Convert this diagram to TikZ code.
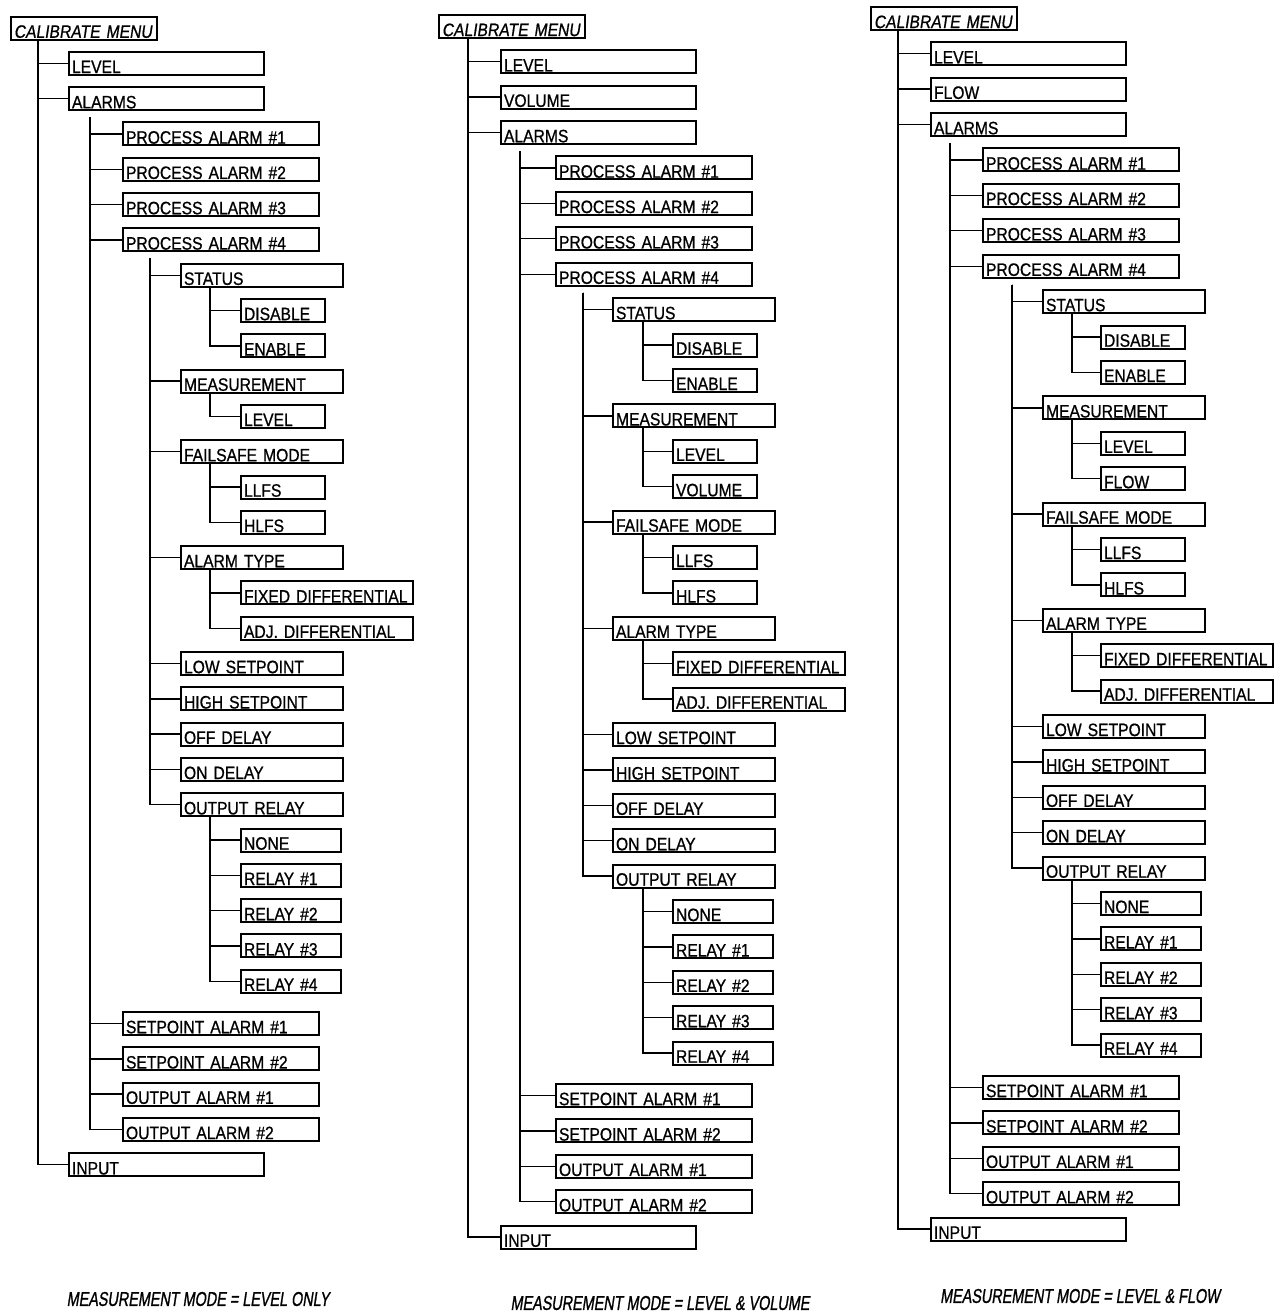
\documentclass[tikz,border=0pt]{standalone}
\usepackage{fontspec}
\setmainfont{Liberation Sans}
\newfontfamily\boxfam[FakeStretch=0.87,FakeBold=0.8]{Liberation Sans}
\newfontfamily\slfont[FakeSlant=0.15,FakeStretch=0.87,FakeBold=0.8]{Liberation Sans}
\newfontfamily\capfont[FakeSlant=0.15,FakeStretch=0.72,FakeBold=1]{Liberation Sans}
\newcommand{\boxfont}{\fontsize{9}{10}\selectfont}

\tikzset{
  menu/.style={draw, line width=1pt, anchor=west, inner xsep=1.5pt, inner ysep=0.9pt,
    text height=9.7pt, text depth=0pt, text width=#1, align=left, font=\boxfam\boxfont},
  title/.style={menu=70pt, font=\slfont\boxfont},
  link/.style={line width=0.7pt},
  caption/.style={font=\capfont\fontsize{10}{11}\selectfont},
}

\begin{document}
\begin{tikzpicture}
\useasboundingbox (0,0) rectangle (638pt,-658pt);

% level only
\begin{scope}[shift={(5pt,-67pt)},x=0.5pt,y=-17.65pt]
\node[title] (Acal) at (0,-3) {CALIBRATE MENU};
\node[menu=94.5pt] (Alev) at (58,-2) {LEVEL};
\node[menu=94.5pt] (Aalm) at (58,-1) {ALARMS};
\node[menu=95pt] (Apa1) at (112,0) {PROCESS ALARM \#1};
\node[menu=95pt] (Apa2) at (112,1) {PROCESS ALARM \#2};
\node[menu=95pt] (Apa3) at (112,2) {PROCESS ALARM \#3};
\node[menu=95pt] (Apa4) at (112,3) {PROCESS ALARM \#4};
\node[menu=78pt] (Asta) at (170,4) {STATUS};
\node[menu=39pt] (Adis) at (230,5) {DISABLE};
\node[menu=39pt] (Aena) at (230,6) {ENABLE};
\node[menu=78pt] (Amea) at (170,7) {MEASUREMENT};
\node[menu=39pt] (Amlv) at (230,8) {LEVEL};
\node[menu=78pt] (Afsm) at (170,9) {FAILSAFE MODE};
\node[menu=39pt] (Allf) at (230,10) {LLFS};
\node[menu=39pt] (Ahlf) at (230,11) {HLFS};
\node[menu=78pt] (Aaty) at (170,12) {ALARM TYPE};
\node[menu=83pt] (Afix) at (230,13) {FIXED DIFFERENTIAL};
\node[menu=83pt] (Aadj) at (230,14) {ADJ. DIFFERENTIAL};
\node[menu=78pt] (Alow) at (170,15) {LOW SETPOINT};
\node[menu=78pt] (Ahig) at (170,16) {HIGH SETPOINT};
\node[menu=78pt] (Aoff) at (170,17) {OFF DELAY};
\node[menu=78pt] (Aond) at (170,18) {ON DELAY};
\node[menu=78pt] (Aout) at (170,19) {OUTPUT RELAY};
\node[menu=47pt] (Anon) at (230,20) {NONE};
\node[menu=47pt] (Ar1) at (230,21) {RELAY \#1};
\node[menu=47pt] (Ar2) at (230,22) {RELAY \#2};
\node[menu=47pt] (Ar3) at (230,23) {RELAY \#3};
\node[menu=47pt] (Ar4) at (230,24) {RELAY \#4};
\node[menu=95pt] (Asp1) at (112,25.2) {SETPOINT ALARM \#1};
\node[menu=95pt] (Asp2) at (112,26.2) {SETPOINT ALARM \#2};
\node[menu=95pt] (Aoa1) at (112,27.2) {OUTPUT ALARM \#1};
\node[menu=95pt] (Aoa2) at (112,28.2) {OUTPUT ALARM \#2};
\node[menu=94.5pt] (Ainp) at (58,29.2) {INPUT};

\foreach \c in {Alev,Aalm,Ainp}
  \draw[link] ([xshift=14pt]Acal.south west) |- (\c.west);
\foreach \c in {Apa1,Apa2,Apa3,Apa4,Asp1,Asp2,Aoa1,Aoa2}
  \draw[link] ([xshift=11pt,yshift=-3pt]Aalm.south west) |- (\c.west);
\foreach \c in {Asta,Amea,Afsm,Aaty,Alow,Ahig,Aoff,Aond,Aout}
  \draw[link] ([xshift=14pt,yshift=-3pt]Apa4.south west) |- (\c.west);
\foreach \c in {Adis,Aena}
  \draw[link] ([xshift=15pt]Asta.south west) |- (\c.west);
\draw[link] ([xshift=15pt]Amea.south west) |- (Amlv.west);
\foreach \c in {Allf,Ahlf}
  \draw[link] ([xshift=15pt]Afsm.south west) |- (\c.west);
\foreach \c in {Afix,Aadj}
  \draw[link] ([xshift=15pt]Aaty.south west) |- (\c.west);
\foreach \c in {Anon,Ar1,Ar2,Ar3,Ar4}
  \draw[link] ([xshift=15pt]Aout.south west) |- (\c.west);
\end{scope}

% level and volume
\begin{scope}[shift={(219pt,-84pt)},x=0.5pt,y=-17.7pt]
\node[title] (Bcal) at (0,-4) {CALIBRATE MENU};
\node[menu=94.5pt] (Blev) at (62,-3) {LEVEL};
\node[menu=94.5pt] (Bvol) at (62,-2) {VOLUME};
\node[menu=94.5pt] (Balm) at (62,-1) {ALARMS};
\node[menu=95pt] (Bpa1) at (117,0) {PROCESS ALARM \#1};
\node[menu=95pt] (Bpa2) at (117,1) {PROCESS ALARM \#2};
\node[menu=95pt] (Bpa3) at (117,2) {PROCESS ALARM \#3};
\node[menu=95pt] (Bpa4) at (117,3) {PROCESS ALARM \#4};
\node[menu=78pt] (Bsta) at (174,4) {STATUS};
\node[menu=39pt] (Bdis) at (234,5) {DISABLE};
\node[menu=39pt] (Bena) at (234,6) {ENABLE};
\node[menu=78pt] (Bmea) at (174,7) {MEASUREMENT};
\node[menu=39pt] (Bmlv) at (234,8) {LEVEL};
\node[menu=39pt] (Bmvo) at (234,9) {VOLUME};
\node[menu=78pt] (Bfsm) at (174,10) {FAILSAFE MODE};
\node[menu=39pt] (Bllf) at (234,11) {LLFS};
\node[menu=39pt] (Bhlf) at (234,12) {HLFS};
\node[menu=78pt] (Baty) at (174,13) {ALARM TYPE};
\node[menu=83pt] (Bfix) at (234,14) {FIXED DIFFERENTIAL};
\node[menu=83pt] (Badj) at (234,15) {ADJ. DIFFERENTIAL};
\node[menu=78pt] (Blow) at (174,16) {LOW SETPOINT};
\node[menu=78pt] (Bhig) at (174,17) {HIGH SETPOINT};
\node[menu=78pt] (Boff) at (174,18) {OFF DELAY};
\node[menu=78pt] (Bond) at (174,19) {ON DELAY};
\node[menu=78pt] (Bout) at (174,20) {OUTPUT RELAY};
\node[menu=47pt] (Bnon) at (234,21) {NONE};
\node[menu=47pt] (Br1) at (234,22) {RELAY \#1};
\node[menu=47pt] (Br2) at (234,23) {RELAY \#2};
\node[menu=47pt] (Br3) at (234,24) {RELAY \#3};
\node[menu=47pt] (Br4) at (234,25) {RELAY \#4};
\node[menu=95pt] (Bsp1) at (117,26.2) {SETPOINT ALARM \#1};
\node[menu=95pt] (Bsp2) at (117,27.2) {SETPOINT ALARM \#2};
\node[menu=95pt] (Boa1) at (117,28.2) {OUTPUT ALARM \#1};
\node[menu=95pt] (Boa2) at (117,29.2) {OUTPUT ALARM \#2};
\node[menu=94.5pt] (Binp) at (62,30.2) {INPUT};

\foreach \c in {Blev,Bvol,Balm,Binp}
  \draw[link] ([xshift=15pt]Bcal.south west) |- (\c.west);
\foreach \c in {Bpa1,Bpa2,Bpa3,Bpa4,Bsp1,Bsp2,Boa1,Boa2}
  \draw[link] ([xshift=10pt,yshift=-3pt]Balm.south west) |- (\c.west);
\foreach \c in {Bsta,Bmea,Bfsm,Baty,Blow,Bhig,Boff,Bond,Bout}
  \draw[link] ([xshift=14pt,yshift=-3pt]Bpa4.south west) |- (\c.west);
\foreach \c in {Bdis,Bena}
  \draw[link] ([xshift=15.5pt]Bsta.south west) |- (\c.west);
\foreach \c in {Bmlv,Bmvo}
  \draw[link] ([xshift=15.5pt]Bmea.south west) |- (\c.west);
\foreach \c in {Bllf,Bhlf}
  \draw[link] ([xshift=15.5pt]Bfsm.south west) |- (\c.west);
\foreach \c in {Bfix,Badj}
  \draw[link] ([xshift=15.5pt]Baty.south west) |- (\c.west);
\foreach \c in {Bnon,Br1,Br2,Br3,Br4}
  \draw[link] ([xshift=15.5pt]Bout.south west) |- (\c.west);
\end{scope}

% level and flow
\begin{scope}[shift={(435pt,-80pt)},x=0.5pt,y=-17.7pt]
\node[title] (Ccal) at (0,-4) {CALIBRATE MENU};
\node[menu=94.5pt] (Clev) at (60,-3) {LEVEL};
\node[menu=94.5pt] (Cflo) at (60,-2) {FLOW};
\node[menu=94.5pt] (Calm) at (60,-1) {ALARMS};
\node[menu=95pt] (Cpa1) at (112,0) {PROCESS ALARM \#1};
\node[menu=95pt] (Cpa2) at (112,1) {PROCESS ALARM \#2};
\node[menu=95pt] (Cpa3) at (112,2) {PROCESS ALARM \#3};
\node[menu=95pt] (Cpa4) at (112,3) {PROCESS ALARM \#4};
\node[menu=78pt] (Csta) at (172,4) {STATUS};
\node[menu=39pt] (Cdis) at (230,5) {DISABLE};
\node[menu=39pt] (Cena) at (230,6) {ENABLE};
\node[menu=78pt] (Cmea) at (172,7) {MEASUREMENT};
\node[menu=39pt] (Cmlv) at (230,8) {LEVEL};
\node[menu=39pt] (Cmfl) at (230,9) {FLOW};
\node[menu=78pt] (Cfsm) at (172,10) {FAILSAFE MODE};
\node[menu=39pt] (Cllf) at (230,11) {LLFS};
\node[menu=39pt] (Chlf) at (230,12) {HLFS};
\node[menu=78pt] (Caty) at (172,13) {ALARM TYPE};
\node[menu=83pt] (Cfix) at (230,14) {FIXED DIFFERENTIAL};
\node[menu=83pt] (Cadj) at (230,15) {ADJ. DIFFERENTIAL};
\node[menu=78pt] (Clow) at (172,16) {LOW SETPOINT};
\node[menu=78pt] (Chig) at (172,17) {HIGH SETPOINT};
\node[menu=78pt] (Coff) at (172,18) {OFF DELAY};
\node[menu=78pt] (Cond) at (172,19) {ON DELAY};
\node[menu=78pt] (Cout) at (172,20) {OUTPUT RELAY};
\node[menu=47pt] (Cnon) at (230,21) {NONE};
\node[menu=47pt] (Cr1) at (230,22) {RELAY \#1};
\node[menu=47pt] (Cr2) at (230,23) {RELAY \#2};
\node[menu=47pt] (Cr3) at (230,24) {RELAY \#3};
\node[menu=47pt] (Cr4) at (230,25) {RELAY \#4};
\node[menu=95pt] (Csp1) at (112,26.2) {SETPOINT ALARM \#1};
\node[menu=95pt] (Csp2) at (112,27.2) {SETPOINT ALARM \#2};
\node[menu=95pt] (Coa1) at (112,28.2) {OUTPUT ALARM \#1};
\node[menu=95pt] (Coa2) at (112,29.2) {OUTPUT ALARM \#2};
\node[menu=94.5pt] (Cinp) at (60,30.2) {INPUT};

\foreach \c in {Clev,Cflo,Calm,Cinp}
  \draw[link] ([xshift=14pt]Ccal.south west) |- (\c.west);
\foreach \c in {Cpa1,Cpa2,Cpa3,Cpa4,Csp1,Csp2,Coa1,Coa2}
  \draw[link] ([xshift=10pt,yshift=-3pt]Calm.south west) |- (\c.west);
\foreach \c in {Csta,Cmea,Cfsm,Caty,Clow,Chig,Coff,Cond,Cout}
  \draw[link] ([xshift=15pt,yshift=-3pt]Cpa4.south west) |- (\c.west);
\foreach \c in {Cdis,Cena}
  \draw[link] ([xshift=15pt]Csta.south west) |- (\c.west);
\foreach \c in {Cmlv,Cmfl}
  \draw[link] ([xshift=15pt]Cmea.south west) |- (\c.west);
\foreach \c in {Cllf,Chlf}
  \draw[link] ([xshift=15pt]Cfsm.south west) |- (\c.west);
\foreach \c in {Cfix,Cadj}
  \draw[link] ([xshift=15pt]Caty.south west) |- (\c.west);
\foreach \c in {Cnon,Cr1,Cr2,Cr3,Cr4}
  \draw[link] ([xshift=15pt]Cout.south west) |- (\c.west);
\end{scope}

\node[caption] (cap1) at (99pt,-649.5pt) {MEASUREMENT MODE = LEVEL ONLY};
\node[caption] (cap2) at (330pt,-651.5pt) {MEASUREMENT MODE = LEVEL \& VOLUME};
\node[caption] (cap3) at (540pt,-648pt) {MEASUREMENT MODE = LEVEL \& FLOW};
\end{tikzpicture}
\end{document}
